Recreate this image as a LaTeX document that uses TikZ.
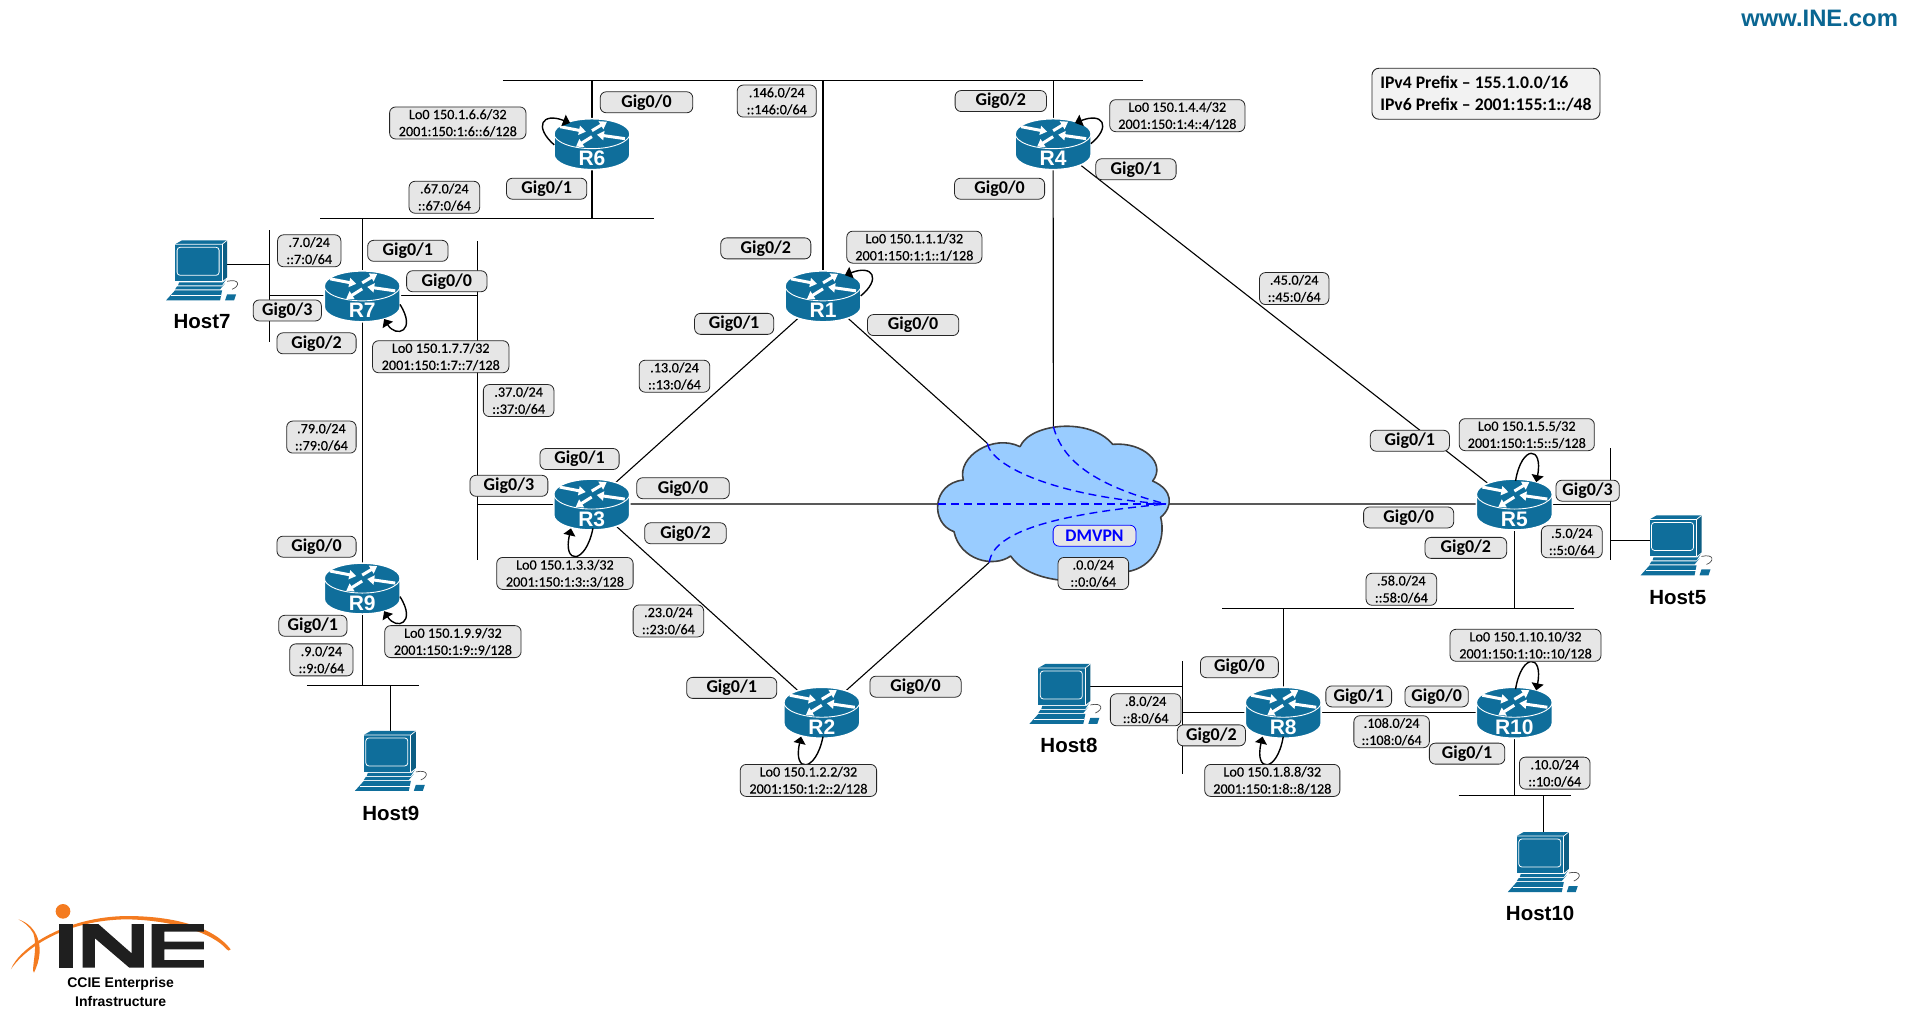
\documentclass[tikz,border=0pt]{standalone}
\usepackage{fontspec}
\setmainfont{Carlito}
\newfontfamily\arialf{Liberation Sans}
\newfontfamily\medf[FakeBold=0.35]{Carlito}
\usetikzlibrary{arrows.meta,calc}
\pgfdeclarelayer{bg}
\pgfsetlayers{bg,main}
\definecolor{cisco}{RGB}{15,110,155}
\definecolor{pill}{RGB}{230,230,230}
\definecolor{cloudfill}{RGB}{153,204,255}
\definecolor{inecol}{RGB}{10,102,146}
\definecolor{ineor}{RGB}{244,123,32}
\tikzset{
  link/.style={draw=black,line width=1.1pt},
  vpn/.style={draw=blue,line width=1.4pt,dash pattern=on 8pt off 5pt},
  gigbox/.style={draw=black!85,fill=pill,rounded corners=6pt,line width=.8pt,inner sep=0pt,minimum height=21pt,font=\fontsize{18}{20}\selectfont\bfseries},
  twoline/.style={draw=black!85,fill=pill,rounded corners=6pt,line width=.8pt,inner sep=0pt,minimum height=32pt,align=center,font=\fontsize{14.2}{17}\selectfont\medf},
  routerbox/.style={minimum width=76pt,minimum height=51pt,inner sep=0pt,text=white,font=\fontsize{21}{21}\selectfont\arialf\bfseries},
  hostbox/.style={minimum width=60pt,minimum height=50pt,inner sep=0pt},
  hostname/.style={font=\fontsize{20.5}{22}\selectfont\arialf\bfseries,inner sep=0pt},
  loopb/.style={draw=black,line width=1.4pt,-{Triangle[length=7pt,width=12pt]}},
  rarrow/.style={draw=white,line width=3pt,-{Triangle[length=7pt,width=9pt]}},
}
\newcommand\gigl[5]{\node[gigbox,minimum width=#4*1.2175pt] (#1) at (#2,#3) {#5};}
\newcommand\twol[6]{\node[twoline,minimum width=#4*1.2175pt] (#1) at (#2,#3) {#5\\#6};}
\newcommand\router[3]{%
  \begin{scope}[shift={(#2,#3)},x=1pt,y=-1pt]
    \draw[white,line width=1.6pt,fill=cisco] (-38,-10) -- (-38,11) .. controls (-38,19.3) and (-21,26) .. (0,26) .. controls (21,26) and (38,19.3) .. (38,11) -- (38,-10) .. controls (38,-18.3) and (21,-25) .. (0,-25) .. controls (-21,-25) and (-38,-18.3) .. (-38,-10) -- cycle;
    \draw[white,line width=.9pt] (-38,-10) .. controls (-38,-2) and (-21,5) .. (0,5) .. controls (21,5) and (38,-2) .. (38,-10);
    \draw[rarrow] (-32,-17) -- (-6,-12);
    \draw[rarrow] (0,-13) -- (15,-22);
    \draw[rarrow] (33,-5) -- (5,-9);
    \draw[rarrow] (0,-7) -- (-16,3);
  \end{scope}
  \node[routerbox] (#1) at (#2,#3) {\smash{\raisebox{-22pt}{#1}}};}
\newcommand\hostpc[3]{%
  \begin{scope}[shift={(#2,#3)},x=1pt,y=-1pt]
    \draw[black!70,line width=.7pt] (25,11) .. controls (38,8) and (38,16) .. (30,19);
    \fill[cisco] (-27,-26) -- (-20,-30) -- (25,-30) -- (20,-26) -- cycle;
    \fill[cisco!85!black] (20,-26) -- (25,-30) -- (25,7) -- (20,11) -- cycle;
    \fill[cisco] (-27,-26) rectangle (20,11);
    \draw[white,line width=.7pt] (-27,-26) -- (20,-26) -- (25,-30);
    \draw[white,line width=.7pt] (20,-26) -- (20,11);
    \draw[white,line width=.8pt,rounded corners=3pt] (-25,-23) rectangle (17,5);
    \fill[cisco] (-23,12) -- (21,12) -- (24,9) -- (20,15) -- (-24,15) -- cycle;
    \fill[cisco] (-25,16) -- (20,16) -- (23,13) -- (18,19) -- (-27,19) -- cycle;
    \fill[cisco] (-27,20) -- (20,20) -- (18,30) -- (-36,30) -- cycle;
    \draw[white,line width=.6pt] (-31,25) -- (19,25);
    \fill[cisco] (23,30) -- (25,24) -- (34,24) -- (32,30) -- cycle;
  \end{scope}
  \node[hostbox] (#1) at (#2,#3) {};}
\newcommand\lp[9]{\draw[loopb] ($(#1.center)+(#2,#3)$) .. controls ($(#1.center)+(#4,#5)$) and ($(#1.center)+(#6,#7)$) .. ($(#1.center)+(#8,#9)$);}
\begin{document}
\begin{tikzpicture}[x=1.2175pt,y=-1.2175pt]
\useasboundingbox (0,0) rectangle (1909pt,-1021pt);
\begin{pgfonlayer}{bg}
\fill[white] (0,0) rectangle (1909pt,-1021pt);
\end{pgfonlayer}
% routers
\router{R6}{486.2}{118}
\router{R4}{865}{118}
\router{R1}{676}{243}
\router{R7}{297.5}{243}
\router{R3}{486}{414}
\router{R9}{297.5}{483}
\router{R2}{675}{585}
\router{R5}{1243.8}{414}
\router{R8}{1054}{585}
\router{R10}{1243.8}{585}
% hosts
\hostpc{H7}{166}{222}
\hostpc{H9}{321}{625}
\hostpc{H8}{875}{570}
\hostpc{H5}{1377}{448}
\hostpc{H10}{1268}{708}
\node[hostname] (H7t) at (166,264) {Host7};
\node[hostname] (H9t) at (321,668) {Host9};
\node[hostname] (H8t) at (878,612) {Host8};
\node[hostname] (H5t) at (1378,491) {Host5};
\node[hostname] (H10t) at (1265,750) {Host10};
% cloud
\begin{scope}[shift={(930pt,-400pt)},x=.33333pt,y=-.33333pt]
  \draw[fill=cloudfill,draw=black!75,line width=1.6pt,line join=round] (100,240) .. controls (80,170) and (190,100) .. (270,140)
    .. controls (300,70) and (480,50) .. (548,133)
    .. controls (640,125) and (710,190) .. (668,243)
    .. controls (730,270) and (730,320) .. (692,352)
    .. controls (710,420) and (670,505) .. (590,515)
    .. controls (480,560) and (300,555) .. (242,468)
    .. controls (190,505) and (90,480) .. (72,395)
    .. controls (0,370) and (5,250) .. cycle;
  \coordinate (cT) at (370,80);
  \coordinate (cTL) at (172,130);
  \coordinate (cL) at (25,312);
  \coordinate (cBL) at (178,487);
  \coordinate (cR) at (708,312);
  \draw[vpn] (cT) .. controls (395,170) and (470,250) .. (cR);
  \draw[vpn] (cTL) .. controls (185,200) and (380,290) .. (cR);
  \draw[vpn] (cL) -- (cR);
  \draw[vpn] (cBL) .. controls (190,390) and (400,340) .. (cR);
\end{scope}
% free ends
\coordinate (t1) at (413,66);
\coordinate (t2) at (939,66);
\coordinate (b67a) at (263,179.5);
\coordinate (b67b) at (537,179.5);
\coordinate (v3a) at (392,198);
\coordinate (v3b) at (392,460);
\coordinate (v7a) at (221,189);
\coordinate (v7b) at (221,281);
\coordinate (h7b) at (221,217);
\coordinate (b9a) at (252,563);
\coordinate (b9b) at (344,563);
\coordinate (b58a) at (1004,500);
\coordinate (b58b) at (1293,500);
\coordinate (v5a) at (1323,368);
\coordinate (v5b) at (1323,460);
\coordinate (h5b) at (1323,444);
\coordinate (v8a) at (971,543);
\coordinate (v8b) at (971,636);
\coordinate (h8b) at (971,564);
\coordinate (b10a) at (1198,653.5);
\coordinate (b10b) at (1290,653.5);
\begin{pgfonlayer}{bg}
\draw[link] (t1) -- (t2);
\draw[link] (b67a) -- (b67b);
\draw[link] (v3a) -- (v3b);
\draw[link] (v7a) -- (v7b);
\draw[link] (b9a) -- (b9b);
\draw[link] (b58a) -- (b58b);
\draw[link] (v5a) -- (v5b);
\draw[link] (v8a) -- (v8b);
\draw[link] (b10a) -- (b10b);
\draw[link] (R6.center) -- (R6.center |- t1);
\draw[link] (R6.center) -- (R6.center |- b67a);
\draw[link] (R7.center) -- (R7.center |- b67a);
\draw[link] (R7.center) -- (R9.center);
\draw[link] (R9.center) -- (R9.center |- b9a);
\draw[link] (R7.center) -- (R7.center -| v3a);
\draw[link] (R7.center) -- (R7.center -| v7a);
\draw[link] (H7.center |- h7b) -- (h7b);
\draw[link] (H9.center) -- (H9.center |- b9a);
\draw[link] (R1.center) -- (R1.center |- t1);
\draw[link] (R4.center) -- (R4.center |- t1);
\draw[link] (R4.center) -- (cT);
\draw[link] (R4.center) -- (R5.center);
\draw[link] (R1.center) -- (cTL);
\draw[link] (R1.center) -- (R3.center);
\draw[link] (R3.center) -- (R2.center);
\draw[link] (R3.center) -- (cL);
\draw[link] (R3.center) -- (R3.center -| v3a);
\draw[link] (R2.center) -- (cBL);
\draw[link] (cR) -- (R5.center);
\draw[link] (R5.center) -- (R5.center -| v5a);
\draw[link] (H5.center |- h5b) -- (h5b);
\draw[link] (R5.center) -- (R5.center |- b58a);
\draw[link] (R8.center) -- (R8.center |- b58a);
\draw[link] (R8.center) -- (R10.center);
\draw[link] (R8.center) -- (R8.center -| v8a);
\draw[link] (H8.center |- h8b) -- (h8b);
\draw[link] (R10.center) -- (R10.center |- b10a);
\draw[link] (H10.center) -- (H10.center |- b10a);
\end{pgfonlayer}
% loopback arrows
\lp{R6}{-31}{1}{-48}{-14}{-41}{-26}{-18}{-17}
\lp{R4}{31}{0}{48}{-14}{41}{-26}{18}{-17}
\lp{R1}{31}{0}{48}{-14}{41}{-26}{18}{-17}
\lp{R7}{31}{7}{45}{29}{28}{35}{18}{19}
\lp{R9}{31}{7}{45}{29}{28}{35}{18}{19}
\lp{R3}{1}{20}{-5}{50}{-24}{50}{-17}{20}
\lp{R2}{1}{20}{-5}{50}{-24}{50}{-17}{20}
\lp{R8}{0}{20}{-5}{50}{-24}{50}{-17}{20}
\lp{R5}{1}{-19}{6}{-49}{24}{-48}{18}{-18}
\lp{R10}{1}{-19}{6}{-49}{24}{-48}{18}{-18}
% interface labels
\gigl{g6a}{531}{84}{76}{Gig0/0}
\gigl{g6b}{449}{155}{66}{Gig0/1}
\gigl{g4a}{822}{83}{75}{Gig0/2}
\gigl{g4b}{821}{155}{74}{Gig0/0}
\gigl{g4c}{933}{139}{66}{Gig0/1}
\gigl{g1a}{629}{204}{74}{Gig0/2}
\gigl{g1b}{603}{266}{65}{Gig0/1}
\gigl{g1c}{750}{267}{75}{Gig0/0}
\gigl{g7a}{335}{206}{66}{Gig0/1}
\gigl{g7b}{367}{231}{66}{Gig0/0}
\gigl{g7c}{236}{255}{56}{Gig0/3}
\gigl{g7d}{260}{282}{65}{Gig0/2}
\gigl{g3a}{476}{377}{65}{Gig0/1}
\gigl{g3b}{561}{401}{76}{Gig0/0}
\gigl{g3c}{418}{399}{64}{Gig0/3}
\gigl{g3d}{563}{438}{67}{Gig0/2}
\gigl{g9a}{260}{449}{65}{Gig0/0}
\gigl{g9b}{257}{514}{56}{Gig0/1}
\gigl{g2a}{601}{565}{74}{Gig0/1}
\gigl{g2b}{752}{564}{75}{Gig0/0}
\gigl{g5a}{1158}{362}{65}{Gig0/1}
\gigl{g5b}{1304}{403}{52}{Gig0/3}
\gigl{g5c}{1157}{425}{74}{Gig0/0}
\gigl{g5d}{1204}{450}{67}{Gig0/2}
\gigl{g8a}{1018}{548}{64}{Gig0/0}
\gigl{g8b}{1116}{572}{54}{Gig0/1}
\gigl{g8c}{995}{604}{56}{Gig0/2}
\gigl{g10a}{1180}{572}{52}{Gig0/0}
\gigl{g10b}{1205}{619}{62}{Gig0/1}
% loopbacks
\twol{l6}{376}{101}{112}{Lo0 150.1.6.6/32}{2001:150:1:6::6/128}
\twol{l4}{967}{95}{111}{Lo0 150.1.4.4/32}{2001:150:1:4::4/128}
\twol{l1}{751}{203}{111}{Lo0 150.1.1.1/32}{2001:150:1:1::1/128}
\twol{l7}{362}{293}{112}{Lo0 150.1.7.7/32}{2001:150:1:7::7/128}
\twol{l3}{464}{471}{112}{Lo0 150.1.3.3/32}{2001:150:1:3::3/128}
\twol{l5}{1254}{357}{111}{Lo0 150.1.5.5/32}{2001:150:1:5::5/128}
\twol{l9}{372}{527}{112}{Lo0 150.1.9.9/32}{2001:150:1:9::9/128}
\twol{l2}{664}{641}{112}{Lo0 150.1.2.2/32}{2001:150:1:2::2/128}
\twol{l8}{1045}{641}{111}{Lo0 150.1.8.8/32}{2001:150:1:8::8/128}
\twol{l10}{1253}{530}{124}{Lo0 150.1.10.10/32}{2001:150:1:10::10/128}
% subnets
\twol{s146}{638}{83}{65}{.146.0/24}{::146:0/64}
\twol{s67}{365}{162}{58}{.67.0/24}{::67:0/64}
\twol{s7}{254}{206}{52}{.7.0/24}{::7:0/64}
\twol{s37}{426}{329}{58}{.37.0/24}{::37:0/64}
\twol{s79}{264}{359}{57}{.79.0/24}{::79:0/64}
\twol{s13}{554}{309}{58}{.13.0/24}{::13:0/64}
\twol{s23}{549}{510}{58}{.23.0/24}{::23:0/64}
\twol{s45}{1063}{237}{57}{.45.0/24}{::45:0/64}
\twol{s0}{898}{471}{58}{.0.0/24}{::0:0/64}
\twol{s5}{1291}{445}{50}{.5.0/24}{::5:0/64}
\twol{s9}{264}{542}{52}{.9.0/24}{::9:0/64}
\twol{s58}{1151}{484}{58}{.58.0/24}{::58:0/64}
\twol{s8}{941}{583}{58}{.8.0/24}{::8:0/64}
\twol{s108}{1143}{601}{62}{.108.0/24}{::108:0/64}
\twol{s10}{1277}{635}{58}{.10.0/24}{::10:0/64}
% DMVPN
\node[gigbox,draw=blue,text=blue,minimum width=68*1.2175pt,font=\fontsize{17.7}{20}\selectfont\bfseries] (dm) at (899,440) {DMVPN};
% prefixes
\node[draw=black!85,fill=black!5,rounded corners=7pt,line width=.9pt,inner sep=0pt,minimum width=228pt,minimum height=51pt,align=left,font=\fontsize{17.7}{21.7}\selectfont\bfseries] (pref) at (1220.5,77) {IPv4 Prefix – 155.1.0.0/16\\IPv6 Prefix – 2001:155:1::/48};
% brand
\node[anchor=east,inner sep=0pt,text=inecol,font=\fontsize{23.8}{26}\selectfont\arialf\bfseries] (www) at (1559,15) {www.INE.com};
\begin{scope}[shift={(0pt,-890pt)},x=.33333pt,y=-.33333pt]
  \fill[ineor] (33,237) .. controls (60,170) and (200,80) .. (380,78) .. controls (520,78) and (640,110) .. (692,178) .. controls (688,184) and (684,182) .. (680,178) .. controls (640,130) and (520,90) .. (380,88) .. controls (200,90) and (80,170) .. cycle;
  \fill[ineor] (55,88) .. controls (110,105) and (140,170) .. (102,248) .. controls (92,240) and (115,175) .. (100,130) .. controls (90,110) and (70,95) .. cycle;
  \fill[ineor] (189,64) circle [radius=22];
  \fill[black!88] (177,102) rectangle (218,233);
  \fill[black!88] (248,233) -- (248,102) -- (295,102) -- (395,190) -- (395,102) -- (432,102) -- (432,233) -- (388,233) -- (285,145) -- (285,233) -- cycle;
  \fill[black!88] (455,102) -- (612,102) -- (612,125) -- (493,125) -- (493,155) -- (612,155) -- (612,178) -- (493,178) -- (493,210) -- (612,210) -- (612,233) -- (455,233) -- cycle;
  \node[inner sep=0pt,font=\fontsize{14}{16}\selectfont\arialf\bfseries] (cc1) at (362,283) {CCIE Enterprise};
  \node[inner sep=0pt,font=\fontsize{14}{16}\selectfont\arialf\bfseries] (cc2) at (362,335) {Infrastructure};
\end{scope}
\end{tikzpicture}
\end{document}
